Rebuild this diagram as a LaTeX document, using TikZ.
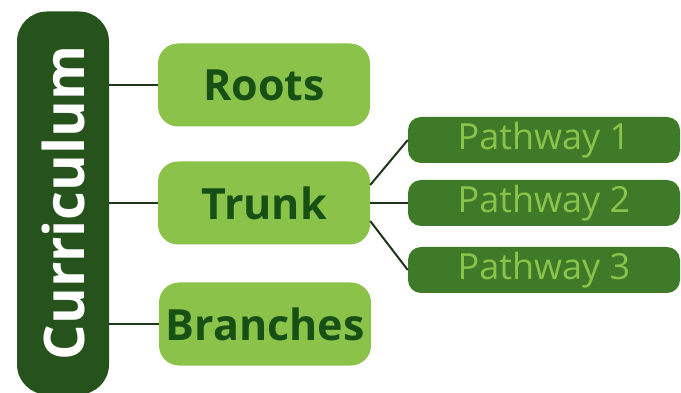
\documentclass[tikz,border=0pt]{standalone}
\usepackage{fontspec}
\setmainfont{Open Sans}
\usepackage{tikz}
\usetikzlibrary{positioning}
\definecolor{cudark}{RGB}{38,83,28}
\definecolor{culight}{RGB}{139,195,74}
\definecolor{cumid}{RGB}{62,122,40}
\definecolor{cutext}{RGB}{22,80,20}
\definecolor{culine}{RGB}{30,55,25}
\tikzstyle{part} = [draw=none,fill=culight,rounded corners=20pt,minimum width=212pt,minimum height=83pt,text=cutext,font=\fontsize{43}{48}\selectfont\bfseries]
\tikzstyle{path} = [draw=none,fill=cumid,rounded corners=13pt,minimum width=272pt,minimum height=46pt,text=culight,font=\fontsize{36}{40}\selectfont]
\tikzstyle{link} = [line width=2pt,color=culine]

\begin{document}
\begin{tikzpicture}[x=1pt,y=1pt]
\useasboundingbox (0,0) rectangle (681,-393);
% Bar
\node[rotate=90, fill=cudark, rounded corners=30pt, minimum width=383pt, minimum height=92pt, text=white, font=\fontsize{56}{60}\selectfont\bfseries] (bar) at (63,-203) {Curriculum};

% Parts
\node[part] (roots) at (264,-85) {Roots};
\node[part] (trunk) at (264,-203) {Trunk};
\node[part] (branches) at (265,-324) {Branches};

% Pathways
\node[path] (p1) at (544,-140) {Pathway 1};
\node[path] (p2) at (544,-203) {Pathway 2};
\node[path] (p3) at (544,-270) {Pathway 3};

% Links
\draw[link] (bar.south |- roots.west) -- (roots.west);
\draw[link] (bar.south |- trunk.west) -- (trunk.west);
\draw[link] (bar.south |- branches.west) -- (branches.west);
\draw[link] ([yshift=18pt]trunk.east) -- (p1.west);
\draw[link] (trunk.east) -- (p2.west);
\draw[link] ([yshift=-18pt]trunk.east) -- (p3.west);
\end{tikzpicture}
\end{document}
